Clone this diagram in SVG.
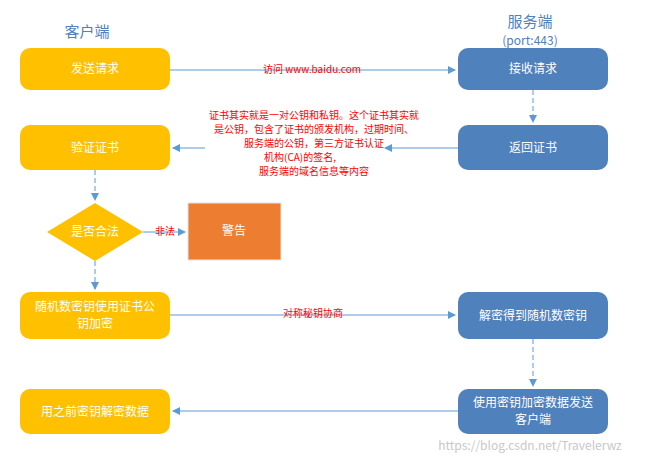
<svg xmlns="http://www.w3.org/2000/svg" width="645" height="465" viewBox="0 0 645 465">
<defs>
<marker id="a" markerWidth="8" markerHeight="8" refX="7" refY="4" orient="auto" markerUnits="userSpaceOnUse"><path d="M0,0 L8,4 L0,8 z" fill="#5B9BD5"/></marker>
<style>
.y{fill:#FFC000}.b{fill:#4F81BD}
text{font-family:"Microsoft YaHei","Noto Sans CJK SC",sans-serif}
.w{fill:#fff;font-size:12px;text-anchor:middle}
.r{fill:#FF0000;font-size:10px;text-anchor:middle}
.c{stroke:#5B9BD5;stroke-width:1;fill:none;marker-end:url(#a)}
.d{stroke-dasharray:5,3}
</style>
</defs>
<rect width="645" height="465" fill="#fff"/>
<text x="87" y="37" font-size="15" fill="#4F81BD" text-anchor="middle">客户端</text>
<text x="530" y="27" font-size="15" fill="#4F81BD" text-anchor="middle">服务端</text>
<text x="530" y="45" font-size="12" fill="#4F81BD" text-anchor="middle">(port:443)</text>
<g id="n1"><rect class="y" x="20" y="48" width="150" height="42" rx="10"/><text class="w" x="95" y="73">发送请求</text></g>
<g id="n2"><rect class="b" x="458" y="48" width="150" height="42" rx="10"/><text class="w" x="533" y="73">接收请求</text></g>
<g id="n3"><rect class="y" x="20" y="125" width="150" height="45" rx="10"/><text class="w" x="95" y="152">验证证书</text></g>
<g id="n4"><rect class="b" x="458" y="125" width="150" height="45" rx="10"/><text class="w" x="533" y="152">返回证书</text></g>
<g id="n5"><polygon class="y" points="95,203 143,232 95,261 47,232"/><text class="w" x="95" y="236" font-size="10">是否合法</text></g>
<g id="n6"><rect x="188" y="203" width="93" height="57" fill="#ED7D31" stroke="#E5E5E5"/><text class="w" x="234" y="235" font-size="10">警告</text></g>
<g id="n7"><rect class="y" x="20" y="292" width="150" height="47" rx="10"/><text class="w" x="95" y="311">随机数密钥使用证书公</text><text class="w" x="95" y="328">钥加密</text></g>
<g id="n8"><rect class="b" x="458" y="292" width="150" height="47" rx="10"/><text class="w" x="533" y="320">解密得到随机数密钥</text></g>
<g id="n9"><rect class="y" x="20" y="389" width="150" height="45" rx="10"/><text class="w" x="95" y="416">用之前密钥解密数据</text></g>
<g id="n10"><rect class="b" x="458" y="389" width="150" height="45" rx="10"/><text class="w" x="533" y="407">使用密钥加密数据发送</text><text class="w" x="533" y="424">客户端</text></g>
<g id="connectors">
<path class="c" d="M170,70 H455"/>
<path class="c d" d="M533,90 V122"/>
<path class="c" d="M458,148 H385"/><path class="c" d="M205,148 H173"/>
<path class="c d" d="M95,170 V200"/>
<path class="c" d="M143,232 H185"/>
<path class="c d" d="M95,261 V289"/>
<path class="c" d="M170,315 H455"/>
<path class="c d" d="M533,339 V386"/>
<path class="c" d="M458,411 H173"/>
<text x="312" y="73" font-size="10" fill="#FF0000" text-anchor="middle">访问 www.baidu.com</text>
<text class="r" x="165" y="235">非法</text>
<text class="r" x="313" y="317">对称秘钥协商</text>
<text class="r" x="314" y="119">证书其实就是一对公钥和私钥。这个证书其实就</text>
<text class="r" x="314" y="133">是公钥，包含了证书的颁发机构，过期时间、</text>
<text class="r" x="314" y="147">服务端的公钥，第三方证书认证</text>
<text class="r" x="300" y="161">机构(CA)的签名,</text>
<text class="r" x="314" y="175">服务端的域名信息等内容</text>
</g>
<text x="530" y="450" font-size="12" fill="#C8C8C8" text-anchor="middle" font-family="Liberation Sans,sans-serif">https://blog.csdn.net/Travelerwz</text>
</svg>
